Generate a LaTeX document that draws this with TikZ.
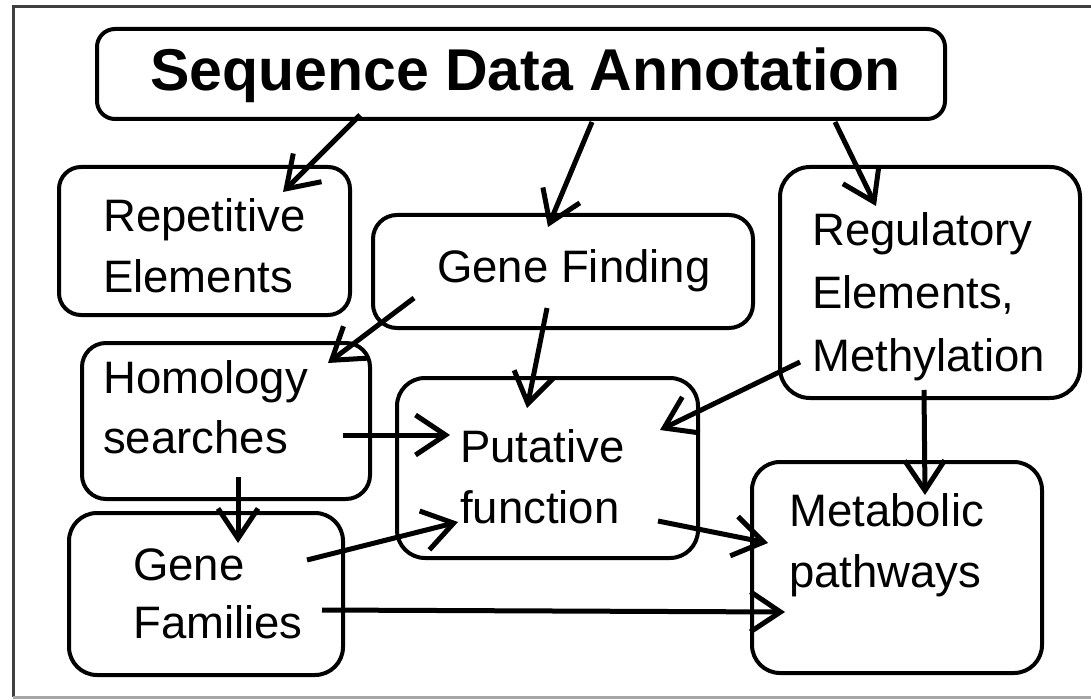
\documentclass[tikz,border=0pt]{standalone}
\usepackage{fontspec}
\setmainfont{Liberation Sans}
\usetikzlibrary{arrows.meta}
\begin{document}
\begin{tikzpicture}[x=1pt,y=-1pt,
  box/.style={draw, line width=4pt, rounded corners=24pt, inner sep=0pt},
  lbl/.style={anchor=base west, align=left, inner sep=0pt, font=\fontsize{45.5}{61}\selectfont},
  conn/.style={line width=5pt, -{Straight Barb[length=30pt,width=40pt]}}]
\useasboundingbox (0,0) rectangle (1091,700);
% frame
\draw[line width=3pt, black!75] (1091,7) -- (13,7) -- (13,697);
\draw[line width=3pt, black!35] (13,697) -- (1091,697);
% boxes
\node[box, rounded corners=18pt, minimum width=848pt, minimum height=90pt] (title) at (521,74) {};
\node[box, rounded corners=22pt, minimum width=291pt, minimum height=148pt] (rep) at (204.5,241) {};
\node[box, minimum width=380pt, minimum height=113pt] (gf) at (563,271.5) {};
\node[box, rounded corners=30pt, minimum width=300pt, minimum height=231pt] (reg) at (930,282.5) {};
\node[box, minimum width=288pt, minimum height=156pt] (hom) at (226,421) {};
\node[box, rounded corners=28pt, minimum width=301pt, minimum height=180pt] (put) at (547.5,468) {};
\node[box, rounded corners=28pt, minimum width=274pt, minimum height=162pt] (fam) at (206,594) {};
\node[box, rounded corners=28pt, minimum width=290pt, minimum height=211pt] (met) at (897,567.5) {};
% texts (anchor = baseline of the last line)
\node[lbl, font=\fontsize{59}{70}\selectfont\bfseries] (titleT) at (150,91) {Sequence Data Annotation};
\node[lbl] (repT) at (103,293) {Repetitive\\Elements};
\node[lbl] (gfT) at (437,283) {Gene Finding};
\node[lbl, font=\fontsize{45.5}{63}\selectfont] (regT) at (812,371) {Regulatory\\Elements,\\Methylation};
\node[lbl, font=\fontsize{45.5}{60}\selectfont] (homT) at (103,453) {Homology\\searches};
\node[lbl] (putT) at (460,523) {Putative\\function};
\node[lbl, font=\fontsize{45.5}{58}\selectfont] (famT) at (133,638) {Gene\\Families};
\node[lbl] (metT) at (789,587) {Metabolic\\pathways};
% connector end points
\coordinate (a1s) at (360,115); \coordinate (a1e) at (283,192);
\coordinate (a2s) at (592,122); \coordinate (a2e) at (548,227);
\coordinate (a3s) at (835,122); \coordinate (a3e) at (876,206);
\coordinate (a4s) at (414,298); \coordinate (a4e) at (328,363);
\coordinate (a5s) at (547,308); \coordinate (a5e) at (527,408);
\coordinate (a6s) at (800,362); \coordinate (a6e) at (660,430);
\coordinate (a7s) at (343,435); \coordinate (a7e) at (450,435);
\coordinate (a8s) at (307,560); \coordinate (a8e) at (458,522);
\coordinate (a9s) at (658,521); \coordinate (a9e) at (768,543);
\coordinate (a10s) at (322,610); \coordinate (a10e) at (785,612);
\coordinate (a11s) at (238,477); \coordinate (a11e) at (238,543);
\coordinate (a12s) at (924,390); \coordinate (a12e) at (925,495);
% connectors
\foreach \i in {1,...,12} \draw[conn] (a\i s) -- (a\i e);
\end{tikzpicture}
\end{document}
